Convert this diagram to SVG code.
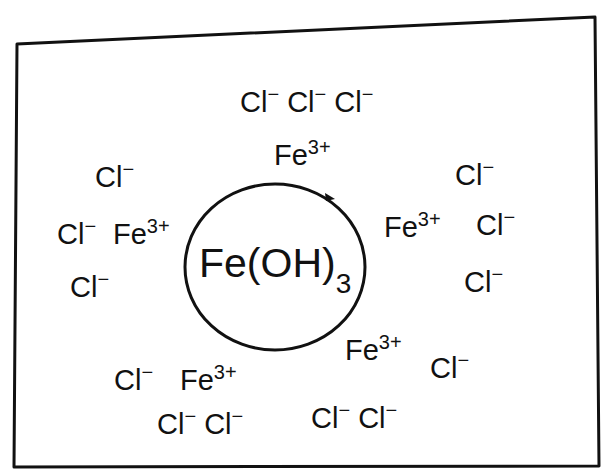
<svg xmlns="http://www.w3.org/2000/svg" width="602" height="471" viewBox="0 0 602 471">
<style>
.frame{fill:none;stroke:#111;stroke-width:3;stroke-linejoin:round}
.core{fill:none;stroke:#111;stroke-width:3}
text{font-family:"Liberation Sans","DejaVu Sans",sans-serif;fill:#111;font-size:29px}
.sup{font-size:20px;baseline-shift:super}
.big{font-size:41px}
.sub{font-size:28px;baseline-shift:sub}
</style>
<rect width="602" height="471" fill="#fff"/>
<g id="frame"><path class="frame" d="M17,44 L595,17 L599,466 L14,467 Z"/></g>
<g id="core">
<ellipse class="core" cx="275" cy="267" rx="90" ry="83"/>
<path d="M325,193 L335,199 L326,201 Z" fill="#111"/>
<text class="big" x="199" y="277">Fe(OH)<tspan class="sub">3</tspan></text>
</g>
<g id="fe-top"><text x="274" y="165">Fe<tspan class="sup">3+</tspan></text></g>
<g id="fe-left"><text x="113" y="244">Fe<tspan class="sup">3+</tspan></text></g>
<g id="fe-right"><text x="384" y="237">Fe<tspan class="sup">3+</tspan></text></g>
<g id="fe-bottom-right"><text x="345" y="360">Fe<tspan class="sup">3+</tspan></text></g>
<g id="fe-bottom-left"><text x="180" y="390">Fe<tspan class="sup">3+</tspan></text></g>
<g id="cl-top"><text x="240" y="112">Cl<tspan class="sup">−</tspan> Cl<tspan class="sup">−</tspan> Cl<tspan class="sup">−</tspan></text></g>
<g id="cl-left-1"><text x="95" y="187">Cl<tspan class="sup">−</tspan></text></g>
<g id="cl-left-2"><text x="57" y="244">Cl<tspan class="sup">−</tspan></text></g>
<g id="cl-left-3"><text x="70" y="297">Cl<tspan class="sup">−</tspan></text></g>
<g id="cl-right-1"><text x="455" y="185">Cl<tspan class="sup">−</tspan></text></g>
<g id="cl-right-2"><text x="476" y="235">Cl<tspan class="sup">−</tspan></text></g>
<g id="cl-right-3"><text x="464" y="292">Cl<tspan class="sup">−</tspan></text></g>
<g id="cl-br"><text x="430" y="378">Cl<tspan class="sup">−</tspan></text></g>
<g id="cl-bl"><text x="114" y="390">Cl<tspan class="sup">−</tspan></text></g>
<g id="cl-bottom-left"><text x="157" y="434">Cl<tspan class="sup">−</tspan> Cl<tspan class="sup">−</tspan></text></g>
<g id="cl-bottom-right"><text x="311" y="428">Cl<tspan class="sup">−</tspan> Cl<tspan class="sup">−</tspan></text></g>
</svg>
